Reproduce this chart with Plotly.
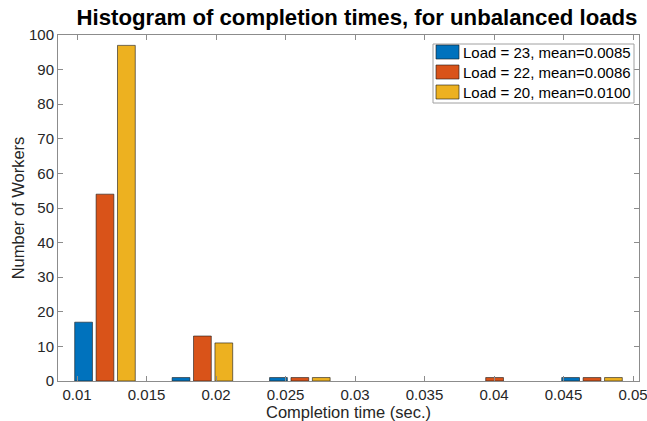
import plotly.graph_objects as go

bin_centers = [0.01201, 0.01902, 0.02603, 0.03303, 0.04004, 0.04705]
load23 = [17, 1, 1, 0, 0, 1]
load22 = [54, 13, 1, 0, 1, 1]
load20 = [97, 11, 1, 0, 0, 1]
series_names = ["Load = 23, mean=0.0085", "Load = 22, mean=0.0086", "Load = 20, mean=0.0100"]
colors = ["#0072BD", "#D95319", "#EDB120"]
x_ticks = [0.01, 0.015, 0.02, 0.025, 0.03, 0.035, 0.04, 0.045, 0.05]
x_labels = ["0.01", "0.015", "0.02", "0.025", "0.03", "0.035", "0.04", "0.045", "0.05"]
y_ticks = list(range(0, 101, 10))

W, H = 647, 421
L, R, T, B = 58, 8, 35, 40
pw, ph = W - L - R, H - T - B

def px(x):
    return (x - L) / pw

def py(y):
    return 1 - (y - T) / ph

fig = go.Figure()
for name, vals, c in zip(series_names, [load23, load22, load20], colors):
    fig.add_trace(go.Bar(x=bin_centers, y=[v if v else None for v in vals], name=name,
                         marker_color=c, marker_line_color="#1a1a1a", marker_line_width=0.6,
                         showlegend=False))

font = "Liberation Sans, Arial, Helvetica, sans-serif"
axcol = "#8c8c8c"

# custom legend (MATLAB-style wide swatches)
shapes = [dict(type="rect", xref="paper", yref="paper", x0=px(433), x1=px(634),
               y0=py(103), y1=py(44), line=dict(color="#a0a0a0", width=1),
               fillcolor="white", layer="above")]
annotations = []
row_y = [52, 72, 92]
for name, c, yc in zip(series_names, colors, row_y):
    shapes.append(dict(type="rect", xref="paper", yref="paper", x0=px(436), x1=px(459),
                       y0=py(yc + 7), y1=py(yc - 7), line=dict(color="#1a1a1a", width=0.6),
                       fillcolor=c, layer="above"))
    annotations.append(dict(xref="paper", yref="paper", x=px(461), y=py(yc),
                            xanchor="left", yanchor="middle", text=name, showarrow=False,
                            font=dict(size=15, color="#000000")))

fig.update_layout(
    width=W, height=H,
    margin=dict(l=L, r=R, t=T, b=B, autoexpand=False),
    plot_bgcolor="white", paper_bgcolor="white",
    barmode="group", bargap=0.34, bargroupgap=0.17,
    font=dict(family=font, size=15, color="#262626"),
    title=dict(text="<b>Histogram of completion times, for unbalanced loads</b>",
               x=357 / W, xanchor="center", y=1 - 17 / H, yanchor="middle",
               font=dict(size=22.2, color="#000000"), automargin=False),
    showlegend=False,
    shapes=shapes, annotations=annotations,
)
fig.update_xaxes(range=[0.00863, 0.05043], tickvals=x_ticks, ticktext=x_labels,
                 ticks="inside", ticklen=5, tickcolor=axcol, showline=True,
                 linecolor=axcol, linewidth=1, mirror="ticks", showgrid=False,
                 zeroline=False, tickfont=dict(size=15), automargin=False,
                 ticklabeloverflow="allow",
                 title=dict(text="Completion time (sec.)", font=dict(size=16.5), standoff=2))
fig.update_yaxes(range=[0, 100], tickvals=y_ticks,
                 ticks="inside", ticklen=5, tickcolor=axcol, showline=True,
                 linecolor=axcol, linewidth=1, mirror="ticks", showgrid=False,
                 zeroline=False, tickfont=dict(size=15), automargin=False,
                 title=dict(text="Number of Workers", font=dict(size=16.5), standoff=0))

fig.write_html("out.html", config={"displayModeBar": False},
               post_script="document.body.style.margin='0';document.body.style.padding='0';")
